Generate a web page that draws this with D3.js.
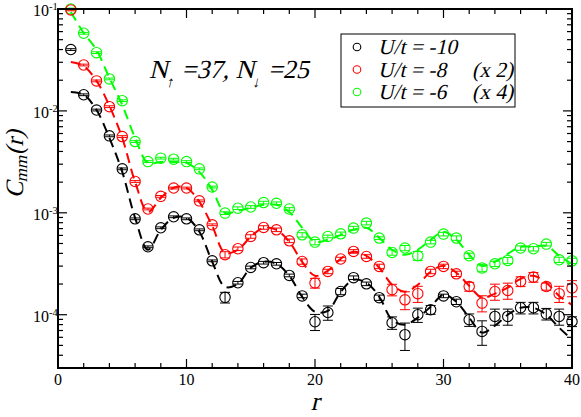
<!DOCTYPE html>
<html><head><meta charset="utf-8">
<script src="https://cdn.jsdelivr.net/npm/d3@7"></script>
<style>body{margin:0;background:#fff}svg{display:block}</style>
</head><body>
<svg id="chart" width="581" height="417"></svg>
<script>
// ---------- data ----------
const rValues = [1,2,3,4,5,6,7,8,9,10,11,12,13,14,15,16,17,18,19,20,21,22,23,24,25,26,27,28,29,30,31,32,33,34,35,36,37,38,39,40];

const blackPts = [0.040,0.0144,0.0102,0.00569,0.0027,0.000873,0.000464,0.000713,0.000914,0.000873,
  0.000681,0.000338,0.000148,0.000206,0.000291,0.000324,0.000316,0.000243,0.000153,0.0000853,
  0.000105,0.000169,0.000231,0.000201,0.000147,0.0000835,0.0000637,0.0001,0.000112,0.000153,
  0.000134,0.0000893,0.0000686,0.0000962,0.0000962,0.000117,0.000117,0.000102,0.0000962,0.0000859];
const blackErr = [0.02,0.02,0.02,0.02,0.02,0.02,0.02,0.02,0.02,0.02,0.02,0.02,0.12,0.03,0.03,0.03,0.03,0.03,0.04,0.18,
  0.16,0.07,0.04,0.04,0.06,0.14,0.30,0.16,0.10,0.04,0.06,0.14,0.27,0.18,0.18,0.13,0.13,0.13,0.18,0.11];
const blackFit = [0.01535,0.0144,0.0102,0.00543,0.00252,0.000893,0.000434,0.000681,0.000893,0.000893,
  0.000652,0.000331,0.000188,0.000201,0.000289,0.000331,0.000316,0.000241,0.00015,0.000107,
  0.000109,0.000168,0.00022,0.000206,0.00015,0.0000893,0.0000798,0.0000935,0.00012,0.000157,
  0.000134,0.0000935,0.0000667,0.000078,0.0001,0.000117,0.000117,0.0001,0.0000746,0.0000569];

const redPts = [0.098,0.0282,0.0197,0.0110,0.0056,0.00203,0.00109,0.00145,0.00175,0.00175,
  0.00131,0.000763,0.000388,0.000444,0.000586,0.000718,0.000681,0.000531,0.000333,0.000205,
  0.000266,0.000352,0.000418,0.000373,0.000298,0.000176,0.00014,0.000161,0.000266,0.000298,
  0.000252,0.000189,0.00013,0.000169,0.000173,0.000212,0.000234,0.000189,0.000161,0.000183];
const redErr = [0.02,0.02,0.02,0.02,0.02,0.02,0.02,0.02,0.02,0.02,0.02,0.02,0.07,0.04,0.04,0.04,0.04,0.04,0.06,0.11,
  0.05,0.04,0.04,0.04,0.05,0.13,0.20,0.18,0.05,0.05,0.06,0.10,0.18,0.18,0.18,0.11,0.11,0.08,0.18,0.18];
const redFit = [0.0302,0.0276,0.0197,0.0112,0.00543,0.00201,0.00102,0.0014,0.00176,0.00176,
  0.00128,0.000746,0.000405,0.000434,0.000582,0.000713,0.000681,0.00052,0.000331,0.000241,
  0.00027,0.000354,0.000415,0.000379,0.000289,0.000197,0.000168,0.000197,0.000264,0.000302,
  0.000258,0.000192,0.000147,0.000161,0.000184,0.000225,0.000241,0.000206,0.000153,0.000125];

const greenPts = [0.1,0.0578,0.0373,0.0206,0.0126,0.0050,0.00318,0.00344,0.00336,0.00318,
  0.0027,0.00179,0.000993,0.00111,0.00114,0.00126,0.00124,0.00109,0.000608,0.000516,
  0.000586,0.000622,0.000708,0.000793,0.000565,0.000408,0.000451,0.000379,0.000516,0.000618,
  0.000565,0.000379,0.000287,0.000316,0.000341,0.000451,0.000444,0.000493,0.000346,0.000338];
const greenErr = [0.02,0.02,0.02,0.02,0.02,0.02,0.02,0.02,0.02,0.02,0.02,0.02,0.03,0.03,0.03,0.03,0.03,0.03,0.05,0.06,
  0.03,0.04,0.04,0.04,0.03,0.06,0.06,0.10,0.04,0.04,0.05,0.06,0.08,0.06,0.07,0.05,0.05,0.04,0.06,0.06];
const greenFit = [0.0935,0.0582,0.0396,0.0211,0.01146,0.00543,0.00309,0.00316,0.00316,0.00309,
  0.00252,0.00168,0.001,0.00105,0.00112,0.0012,0.0012,0.00102,0.000713,0.00052,
  0.000543,0.000608,0.000681,0.000713,0.000569,0.000434,0.000388,0.000434,0.000543,0.000652,
  0.000543,0.000388,0.000302,0.000331,0.000396,0.000464,0.000464,0.000475,0.000379,0.000316];

const seriesNames = ["U/t = -10","U/t = -8","U/t = -6"];
const seriesScale = ["","(x 2)","(x 4)"];
const seriesColors = ["#000000","#ff0000","#00ff00"];
const xTicks = [0,10,20,30,40];
const yTickExps = [-1,-2,-3,-4];

// ---------- chart ----------
const svg = d3.select("#chart");
const L = 58, R = 572, T = 9, B = 368;
const x = d3.scaleLinear().domain([0,40]).range([L,R]);
const y = d3.scaleLog().domain([3e-5,0.1]).range([B,T]);
const SERIF = '"Liberation Serif"';
const SKEW = -13; // synthetic italic
function txt(sel){ return sel.style("font-family",SERIF); }

const series = [
  {pts: greenPts, err: greenErr, fit: greenFit, color: seriesColors[2]},
  {pts: redPts, err: redErr, fit: redFit, color: seriesColors[1]},
  {pts: blackPts, err: blackErr, fit: blackFit, color: seriesColors[0]}
];

svg.append("clipPath").attr("id","clip").append("rect")
  .attr("x",L).attr("y",T).attr("width",R-L).attr("height",B-T);

const line = d3.line().x((d,i)=>x(rValues[i])).y(d=>y(d)).curve(d3.curveCatmullRom.alpha(0.5));

series.forEach(s=>{
  svg.append("path").datum(s.fit)
    .attr("d",line).attr("fill","none").attr("stroke",s.color)
    .attr("stroke-width",2).attr("stroke-dasharray","10,6")
    .attr("clip-path","url(#clip)");
});

series.forEach(s=>{
  const g = svg.append("g");
  s.pts.forEach((v,i)=>{
    const cx = x(rValues[i]);
    const lo = y(v*(1-s.err[i])), hi = y(v*(1+s.err[i]));
    g.append("line").attr("x1",cx).attr("x2",cx).attr("y1",lo).attr("y2",hi)
      .attr("stroke",s.color).attr("stroke-width",1);
    [lo,hi].forEach(yy=>g.append("line").attr("x1",cx-5).attr("x2",cx+5).attr("y1",yy).attr("y2",yy)
      .attr("stroke",s.color).attr("stroke-width",1));
    g.append("circle").attr("cx",cx).attr("cy",y(v)).attr("r",5.2)
      .attr("fill","none").attr("stroke",s.color).attr("stroke-width",1.1);
  });
});

// frame
svg.append("rect").attr("x",L).attr("y",T).attr("width",R-L).attr("height",B-T)
  .attr("fill","none").attr("stroke","#000").attr("stroke-width",2);

// x ticks
const xMinor = [0,2,4,6,8,10,12,14,16,18,20,22,24,26,28,30,32,34,36,38,40];
xMinor.forEach(v=>{
  const len = (v%10===0)?9:5;
  svg.append("line").attr("x1",x(v)).attr("x2",x(v)).attr("y1",B).attr("y2",B-len).attr("stroke","#000").attr("stroke-width",1.2);
  svg.append("line").attr("x1",x(v)).attr("x2",x(v)).attr("y1",T).attr("y2",T+len).attr("stroke","#000").attr("stroke-width",1.2);
});
xTicks.forEach(v=>{
  txt(svg.append("text")).attr("x",x(v)).attr("y",385).attr("text-anchor","middle")
    .attr("font-size",16).text(v);
});
txt(svg.append("text")).attr("transform",`translate(${x(20)},410) skewX(${SKEW})`).attr("text-anchor","middle")
  .attr("font-size",26).text("r");

// y ticks
const yMinor = [];
[-5,-4,-3,-2].forEach(e=>{ for(let k=1;k<=9;k++){ const v=k*Math.pow(10,e); if(v>=3e-5 && v<=0.1) yMinor.push([v,k===1]); } });
yMinor.push([0.1,true]);
yMinor.forEach(([v,maj])=>{
  const len = maj?9:5;
  svg.append("line").attr("x1",L).attr("x2",L+len).attr("y1",y(v)).attr("y2",y(v)).attr("stroke","#000").attr("stroke-width",1.2);
  svg.append("line").attr("x1",R).attr("x2",R-len).attr("y1",y(v)).attr("y2",y(v)).attr("stroke","#000").attr("stroke-width",1.2);
});
yTickExps.forEach(e=>{
  const ty = y(Math.pow(10,e));
  txt(svg.append("text")).attr("x",49).attr("y",ty+7).attr("text-anchor","end")
    .attr("font-size",16).text("10");
  txt(svg.append("text")).attr("x",49).attr("y",ty+1)
    .attr("font-size",10.5).text("-"+Math.abs(e));
});

// y title
const yt = txt(svg.append("text")).attr("transform",`translate(23,164) rotate(-90) skewX(${SKEW})`)
  .attr("text-anchor","middle").attr("font-size",25);
yt.append("tspan").text("C");
yt.append("tspan").attr("font-size",17).attr("dy",4).text("mm");
yt.append("tspan").attr("dy",-4).text("(r)");

// annotation
const an = txt(svg.append("text")).attr("transform",`translate(149,78) skewX(${SKEW})`)
  .attr("font-size",26);
an.append("tspan").text("N");
an.append("tspan").attr("font-size",15).attr("dy",9).text("\u2191");
an.append("tspan").attr("dy",-9).text(" =37, N");
an.append("tspan").attr("font-size",15).attr("dy",9).text("\u2193");
an.append("tspan").attr("dy",-9).text(" =25");

// legend
svg.append("rect").attr("x",341).attr("y",34).attr("width",174).attr("height",73)
  .attr("fill","#fff").attr("stroke","#000").attr("stroke-width",1);
seriesNames.forEach((nm,i)=>{
  const ly = 47 + i*22.5;
  svg.append("circle").attr("cx",357).attr("cy",ly).attr("r",3.8)
    .attr("fill","none").attr("stroke",seriesColors[i]).attr("stroke-width",1.1);
  txt(svg.append("text")).attr("transform",`translate(378,${ly+7}) skewX(${SKEW})`)
    .attr("font-size",21.5).text(nm);
  if(seriesScale[i]) txt(svg.append("text")).attr("transform",`translate(472,${ly+7}) skewX(${SKEW})`)
    .attr("font-size",21.5).text(seriesScale[i]);
});
</script>
</body></html>
